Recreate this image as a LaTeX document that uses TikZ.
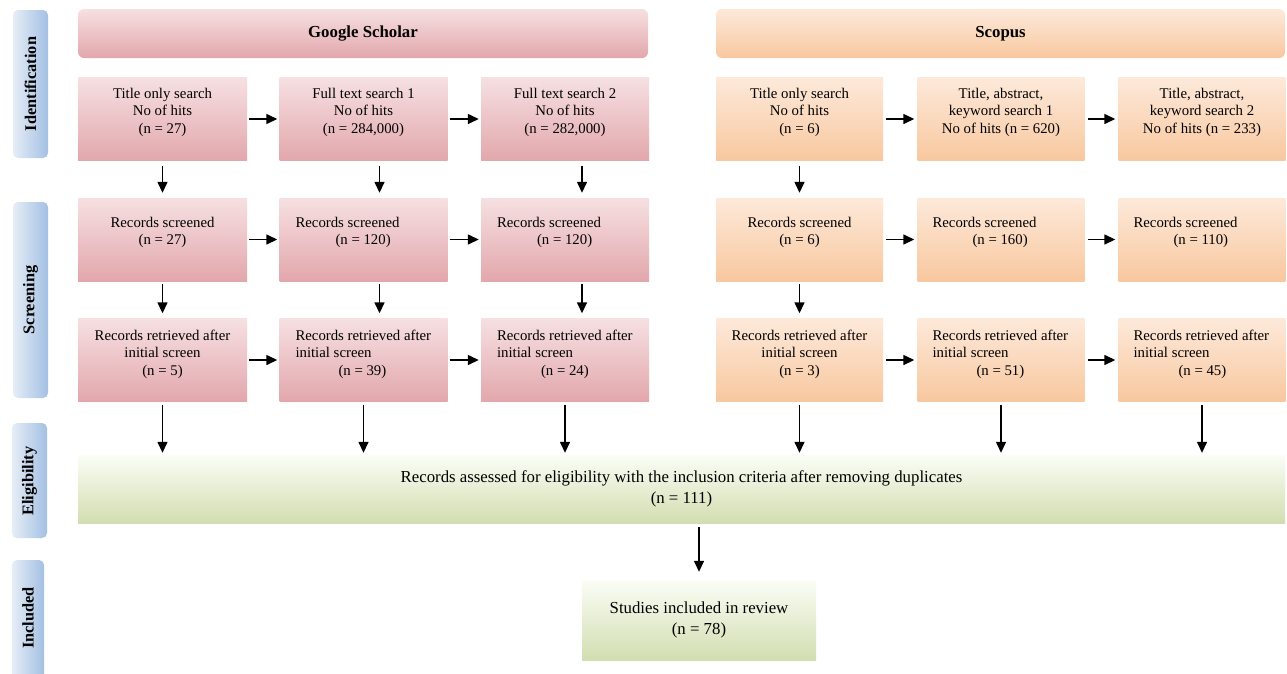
\documentclass[tikz,border=0pt]{standalone}
\usepackage{fontspec}
\setmainfont{Liberation Serif}
\usetikzlibrary{arrows.meta}
\definecolor{pinkT}{HTML}{F6E0E2}
\definecolor{pinkB}{HTML}{E2A7AC}
\definecolor{orT}{HTML}{FDE9DA}
\definecolor{orB}{HTML}{F8C89F}
\definecolor{grT}{HTML}{FBFDF6}
\definecolor{grB}{HTML}{D2DEB1}
\definecolor{blL}{HTML}{E6EDF6}
\definecolor{blR}{HTML}{A3C0E3}
\begin{document}
\begin{tikzpicture}[x=1pt,y=-1pt,
  every node/.style={font=\fontsize{14.8}{17.5}\selectfont, inner sep=0pt},
  gbox/.style={rectangle, top color=pinkT, bottom color=pinkB, minimum height=83pt},
  obox/.style={rectangle, top color=orT, bottom color=orB, minimum height=83pt},
  ghead/.style={rectangle, rounded corners=6pt, top color=pinkT, bottom color=pinkB, minimum width=570pt, minimum height=49pt, font=\fontsize{16.8}{19}\selectfont\bfseries},
  ohead/.style={rectangle, rounded corners=6pt, top color=orT, bottom color=orB, minimum width=569pt, minimum height=49pt, font=\fontsize{16.8}{19}\selectfont\bfseries},
  grbox/.style={rectangle, top color=grT, bottom color=grB, align=center, font=\fontsize{16.8}{20.5}\selectfont},
  stage/.style={rectangle, rounded corners=5pt, left color=blL, right color=blR},
  stagetxt/.style={rotate=90, font=\fontsize{16.3}{18}\selectfont\bfseries},
  ctxt/.style={align=center},
  ltxt/.style={align=left, anchor=west},
  arr/.style={-{Triangle[length=11pt,width=10pt]}, line width=1.4pt, black},
]
\path[use as bounding box, fill=white] (0,0) rectangle (1287,673);
\clip (0,0) rectangle (1287,673);

% stage labels
\path[stage] (13,10) rectangle (48,158);
\node[stagetxt] (sid) at (30.5,84) {Identification};
\path[stage] (13,202) rectangle (48,398);
\node[stagetxt] (ssc) at (30.5,300) {Screening};
\path[stage] (12,423) rectangle (47,538);
\node[stagetxt] (sel) at (29.5,481) {Eligibility};
\path[stage] (12,560) rectangle (44,700);
\node[stagetxt] (sin) at (28,618) {Included};

% headers
\node[ghead] (gh) at (363,33.5) {Google Scholar};
\node[ohead] (oh) at (1000.5,33.5) {Scopus};

% Google boxes
\node[gbox, minimum width=169pt] (g11) at (162.5,119) {};
\node[gbox, minimum width=168pt] (g12) at (363.5,119) {};
\node[gbox, minimum width=168pt] (g13) at (565,119) {};
\node[gbox, minimum width=169pt] (g21) at (162.5,239.5) {};
\node[gbox, minimum width=168pt] (g22) at (363.5,239.5) {};
\node[gbox, minimum width=168pt] (g23) at (565,239.5) {};
\node[gbox, minimum width=169pt] (g31) at (162.5,360) {};
\node[gbox, minimum width=168pt] (g32) at (363.5,360) {};
\node[gbox, minimum width=168pt] (g33) at (565,360) {};

% Scopus boxes
\node[obox, minimum width=167pt] (s11) at (799.5,119) {};
\node[obox, minimum width=167pt] (s12) at (1001,119) {};
\node[obox, minimum width=167pt] (s13) at (1202,119) {};
\node[obox, minimum width=167pt] (s21) at (799.5,239.5) {};
\node[obox, minimum width=167pt] (s22) at (1001,239.5) {};
\node[obox, minimum width=167pt] (s23) at (1202,239.5) {};
\node[obox, minimum width=167pt] (s31) at (799.5,360) {};
\node[obox, minimum width=167pt] (s32) at (1001,360) {};
\node[obox, minimum width=167pt] (s33) at (1202,360) {};

% Eligibility and included
\node[grbox, minimum width=1207pt, minimum height=68pt] (el) at (681.5,489)
  {Records assessed for eligibility with the inclusion criteria after removing duplicates\\(n = 111)};
\node[grbox, minimum width=234pt, minimum height=80pt] (inc) at (699,620)
  {Studies included in review\\(n = 78)};

% texts in Google boxes
\node[ctxt] (g11t) at ([yshift=7pt]g11.center) {Title only search\\No of hits\\(n = 27)};
\node[ctxt] (g12t) at ([yshift=7pt]g12.center) {Full text search 1\\No of hits\\(n = 284,000)};
\node[ctxt] (g13t) at ([yshift=7pt]g13.center) {Full text search 2\\No of hits\\(n = 282,000)};
\node[ctxt] (g21t) at ([yshift=7pt]g21.center) {Records screened\\(n = 27)};
\node[ltxt] (g22t) at ([xshift=16pt,yshift=7pt]g22.west) {Records screened\\\hspace*{40pt}(n = 120)};
\node[ltxt] (g23t) at ([xshift=16pt,yshift=7pt]g23.west) {Records screened\\\hspace*{40pt}(n = 120)};
\node[ctxt] (g31t) at ([yshift=6pt]g31.center) {Records retrieved after\\initial screen\\(n = 5)};
\node[ltxt] (g32t) at ([xshift=16pt,yshift=6pt]g32.west) {Records retrieved after\\initial screen\\\hspace*{43pt}(n = 39)};
\node[ltxt] (g33t) at ([xshift=16pt,yshift=6pt]g33.west) {Records retrieved after\\initial screen\\\hspace*{44pt}(n = 24)};

% texts in Scopus boxes
\node[ctxt] (s11t) at ([yshift=7pt]s11.center) {Title only search\\No of hits\\(n = 6)};
\node[ctxt] (s12t) at ([yshift=7pt]s12.center) {Title, abstract,\\keyword search 1\\No of hits (n = 620)};
\node[ctxt] (s13t) at ([yshift=7pt]s13.center) {Title, abstract,\\keyword search 2\\No of hits (n = 233)};
\node[ctxt] (s21t) at ([yshift=7pt]s21.center) {Records screened\\(n = 6)};
\node[ltxt] (s22t) at ([xshift=15pt,yshift=7pt]s22.west) {Records screened\\\hspace*{40pt}(n = 160)};
\node[ltxt] (s23t) at ([xshift=15pt,yshift=7pt]s23.west) {Records screened\\\hspace*{40pt}(n = 110)};
\node[ctxt] (s31t) at ([yshift=6pt]s31.center) {Records retrieved after\\initial screen\\(n = 3)};
\node[ltxt] (s32t) at ([xshift=15pt,yshift=6pt]s32.west) {Records retrieved after\\initial screen\\\hspace*{44pt}(n = 51)};
\node[ltxt] (s33t) at ([xshift=15pt,yshift=6pt]s33.west) {Records retrieved after\\initial screen\\\hspace*{45pt}(n = 45)};

% horizontal arrows
\foreach \r in {1,2,3}{
  \draw[arr, shorten <=2pt, shorten >=2pt] (g\r1.east) -- (g\r2.west);
  \draw[arr, shorten <=2pt, shorten >=2pt] (g\r2.east) -- (g\r3.west);
  \draw[arr, shorten <=3pt, shorten >=3pt] (s\r1.east) -- (s\r2.west);
  \draw[arr, shorten <=3pt, shorten >=3pt] (s\r2.east) -- (s\r3.west);
}

% vertical arrows Google
\draw[arr, shorten <=5pt, shorten >=5pt] (g11.south) -- (g21.north);
\draw[arr, shorten <=5pt, shorten >=5pt] ([xshift=16pt]g12.south) -- ([xshift=16pt]g22.north);
\draw[arr, shorten <=5pt, shorten >=5pt] ([xshift=17pt]g13.south) -- ([xshift=17pt]g23.north);
\draw[arr, shorten <=3pt, shorten >=5pt] (g21.south) -- (g31.north);
\draw[arr, shorten <=3pt, shorten >=5pt] ([xshift=16pt]g22.south) -- ([xshift=16pt]g32.north);
\draw[arr, shorten <=3pt, shorten >=5pt] ([xshift=17pt]g23.south) -- ([xshift=17pt]g33.north);
% vertical arrows Scopus
\draw[arr, shorten <=5pt, shorten >=5pt] (s11.south) -- (s21.north);
\draw[arr, shorten <=3pt, shorten >=5pt] (s21.south) -- (s31.north);
% to eligibility
\foreach \c in {g31,g32,g33,s31,s32,s33}{
  \draw[arr, shorten <=3pt, shorten >=2pt] (\c.south) -- (\c.south |- el.north);
}
\draw[arr, shorten <=4pt, shorten >=8pt] (el.south -| inc.north) -- (inc.north);
\end{tikzpicture}
\end{document}
